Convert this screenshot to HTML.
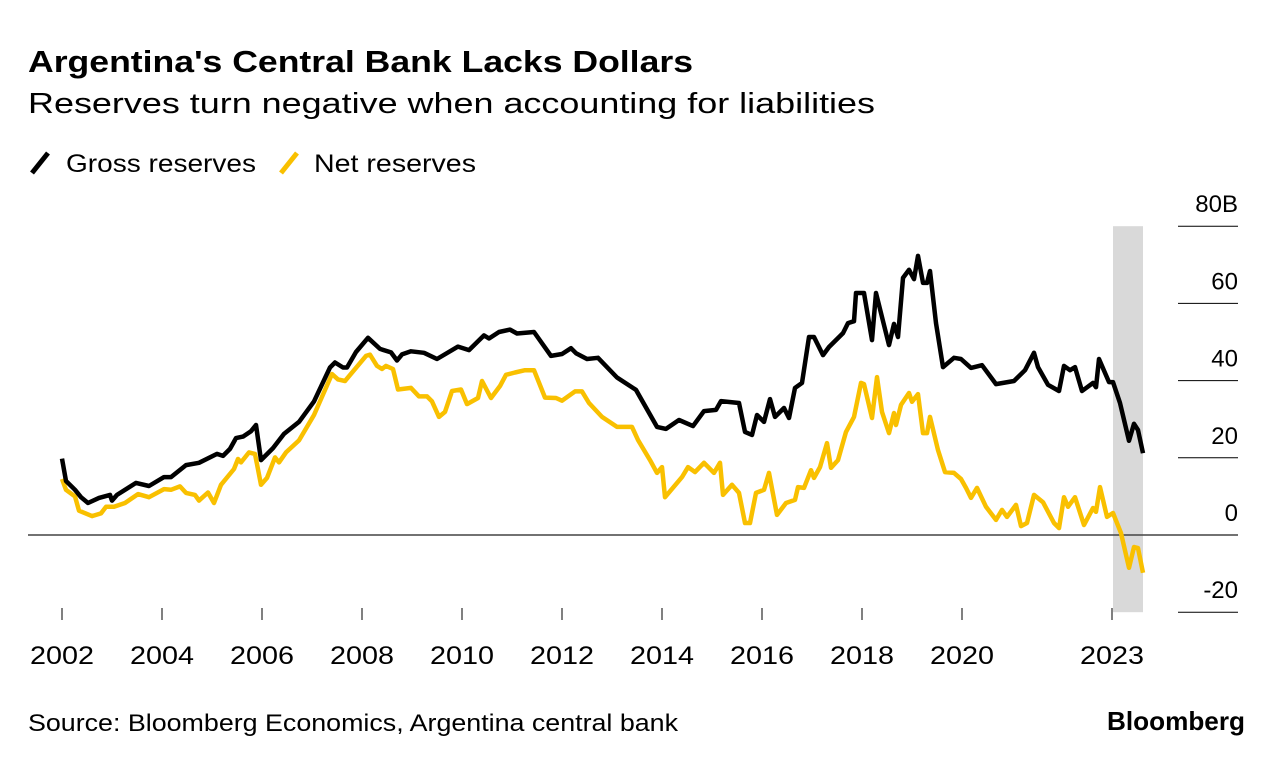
<!DOCTYPE html>
<html><head><meta charset="utf-8"><style>
body{margin:0;background:#fff;font-family:"Liberation Sans",Arial,sans-serif;}
svg{display:block}
</style></head><body>
<svg id="chart" width="1285" height="764" viewBox="0 0 1285 764">
<text x="28" y="72" font-size="31" font-weight="bold" fill="#000" textLength="665" lengthAdjust="spacingAndGlyphs">Argentina's Central Bank Lacks Dollars</text>
<text x="28" y="113" font-size="29" fill="#000" textLength="847" lengthAdjust="spacingAndGlyphs">Reserves turn negative when accounting for liabilities</text>
<g>
<line x1="32" y1="173" x2="48" y2="153" stroke="#000" stroke-width="5"/>
<text x="66" y="172" font-size="25" textLength="190" lengthAdjust="spacingAndGlyphs">Gross reserves</text>
<line x1="281" y1="173" x2="297" y2="153" stroke="#f9c000" stroke-width="5"/>
<text x="314" y="172" font-size="25" textLength="162" lengthAdjust="spacingAndGlyphs">Net reserves</text>
</g>
<g id="plot"></g>
<text x="28" y="731" font-size="24" textLength="650" lengthAdjust="spacingAndGlyphs">Source: Bloomberg Economics, Argentina central bank</text>
<text x="1107" y="730" font-size="26" font-weight="bold" textLength="138" lengthAdjust="spacingAndGlyphs">Bloomberg</text>
</svg>
<script>
const grossYears=[2002.0,2002.08,2002.26,2002.38,2002.52,2002.74,2002.96,2003.0,2003.1,2003.48,2003.74,2004.04,2004.18,2004.48,2004.74,2005.1,2005.22,2005.36,2005.48,2005.62,2005.78,2005.88,2005.98,2006.22,2006.44,2006.74,2007.04,2007.36,2007.46,2007.62,2007.7,2007.88,2008.12,2008.36,2008.58,2008.7,2008.8,2008.98,2009.24,2009.5,2009.92,2010.14,2010.44,2010.54,2010.74,2010.96,2011.1,2011.44,2011.78,2012.0,2012.18,2012.28,2012.5,2012.72,2013.1,2013.48,2013.9,2014.08,2014.34,2014.62,2014.84,2015.08,2015.18,2015.54,2015.66,2015.8,2015.9,2016.04,2016.16,2016.26,2016.44,2016.54,2016.66,2016.8,2016.94,2017.04,2017.22,2017.34,2017.62,2017.72,2017.84,2017.88,2018.04,2018.2,2018.28,2018.54,2018.64,2018.72,2018.82,2018.94,2019.04,2019.12,2019.22,2019.3,2019.36,2019.48,2019.62,2019.84,2019.98,2020.18,2020.4,2020.68,2021.04,2021.26,2021.44,2021.52,2021.72,2021.94,2022.04,2022.16,2022.26,2022.4,2022.62,2022.68,2022.74,2022.94,2023.02,2023.16,2023.34,2023.44,2023.52,2023.62];
const grossValues=[19.8,14,11.7,9.8,8.3,9.6,10.4,8.9,10.4,13.5,12.7,15,15,18.1,18.7,21,20.5,22.3,25.1,25.5,26.9,28.5,19.4,22.5,26.2,29.3,34.6,43.4,44.7,43.4,43.4,47.4,51.1,48.2,47.3,45.2,46.8,47.6,47.2,45.6,48.8,47.9,51.7,50.9,52.6,53.2,52.2,52.6,46.4,46.9,48.4,47.1,45.6,45.9,40.8,37.6,28,27.5,29.8,28.2,32.1,32.4,34.7,34.2,26.7,25.9,31.1,29.3,35.2,30.6,32.9,30.3,38.1,39.4,51.3,51.3,46.6,48.7,52.3,54.9,55.4,62.7,62.7,50.5,62.7,49.2,54.7,51.3,66.6,68.7,66.3,72.3,65.3,65.3,68.4,54.9,43.5,45.9,45.6,43.3,44,39.1,39.9,42.7,47.2,43.5,38.9,37.3,43.8,42.7,43.5,37.3,39.4,38.3,45.6,39.6,39.6,34.2,24.4,28.8,27.2,21.2];
const netYears=[2002.0,2002.08,2002.26,2002.34,2002.6,2002.78,2002.88,2003.04,2003.26,2003.52,2003.74,2004.04,2004.18,2004.36,2004.48,2004.66,2004.74,2004.92,2005.04,2005.18,2005.44,2005.52,2005.58,2005.74,2005.86,2005.98,2006.1,2006.26,2006.34,2006.48,2006.74,2007.04,2007.4,2007.52,2007.66,2008.08,2008.16,2008.3,2008.4,2008.48,2008.62,2008.72,2008.98,2009.14,2009.3,2009.4,2009.54,2009.66,2009.8,2009.98,2010.1,2010.32,2010.4,2010.58,2010.76,2010.88,2011.06,2011.26,2011.44,2011.66,2011.88,2012.0,2012.26,2012.4,2012.54,2012.8,2013.1,2013.4,2013.52,2013.76,2013.9,2014.0,2014.06,2014.4,2014.52,2014.66,2014.84,2015.04,2015.16,2015.22,2015.4,2015.54,2015.66,2015.76,2015.88,2016.04,2016.14,2016.3,2016.48,2016.66,2016.72,2016.84,2016.98,2017.04,2017.16,2017.3,2017.38,2017.52,2017.68,2017.84,2017.98,2018.04,2018.2,2018.3,2018.4,2018.54,2018.64,2018.68,2018.78,2018.94,2019.0,2019.12,2019.22,2019.3,2019.36,2019.52,2019.66,2019.84,2019.98,2020.08,2020.18,2020.3,2020.48,2020.68,2020.8,2020.9,2021.08,2021.18,2021.3,2021.44,2021.62,2021.84,2021.94,2022.04,2022.12,2022.26,2022.44,2022.62,2022.68,2022.76,2022.9,2023.02,2023.18,2023.34,2023.44,2023.52,2023.62];
const netValues=[14.5,11.7,10,6.3,4.9,5.6,7.3,7.3,8.3,10.6,9.8,11.9,11.7,12.6,10.9,10.4,8.9,11,8.3,13,17.1,19.7,18.8,21.4,21,13,14.8,20.1,18.8,21.4,24.5,31.1,41.7,40.3,39.9,46.4,46.7,43.8,43,43.8,43,37.7,38.1,35.9,35.9,34.6,30.6,31.9,37.3,37.7,33.9,35.5,39.9,35.5,38.6,41.5,42.1,42.7,42.7,35.6,35.5,34.8,37.2,37.2,34.2,30.6,28,28,24.6,19.4,16.1,17.6,9.8,15,17.6,16.3,18.7,16.1,18.7,10.4,13,10.9,3.1,3.1,10.9,11.7,16.1,5.2,8.3,9.1,12.4,12.2,16.8,14.8,17.6,23.8,17.4,19.4,26.7,30.6,39.4,39.1,30.3,40.9,31.9,26.4,31.6,28.5,33.7,36.8,34.5,36.5,26.4,26.4,30.6,22,16.3,16.1,14.5,12.2,9.6,12.2,7.3,3.9,6.5,4.7,7.8,2.3,3.1,10.4,8.5,3.1,1.8,9.8,7.3,9.8,2.6,7,6,12.4,4.7,5.7,0.5,-8.5,-3.1,-3.4,-9.8];
const yTicks=[80,60,40,20,0,-20];
const yTickLabels=["80B","60","40","20","0","-20"];
const xTicks=[2002,2004,2006,2008,2010,2012,2014,2016,2018,2020,2023];
const shadeRange=[2023.02,2023.62];

const NS="http://www.w3.org/2000/svg";
const plot=document.getElementById('plot');
function xS(y){return 62+(y-2002)*50;}
function yS(v){return 535-v*3.86;}
function mk(t,a){const e=document.createElementNS(NS,t);for(const k in a)e.setAttribute(k,a[k]);plot.appendChild(e);return e;}

const band=mk('rect',{x:xS(shadeRange[0]),y:yS(80),width:xS(shadeRange[1])-xS(shadeRange[0]),height:yS(-20)-yS(80),fill:'#d9d9d9'});



yTicks.forEach((t,i)=>{
  const g=mk('line',{x1:1178,x2:1238,y1:yS(t),y2:yS(t),stroke:'#000','stroke-width':1});
  
  
  const l=mk('text',{x:1238,y:yS(t)-14,'font-size':24,'text-anchor':'end'});
  l.textContent=yTickLabels[i];
  
  
});
const zl=mk('line',{x1:28,x2:1238,y1:yS(0),y2:yS(0),stroke:'#444','stroke-width':1.5});



xTicks.forEach(t=>{
  const tk=mk('line',{x1:xS(t),x2:xS(t),y1:608,y2:620,stroke:'#000','stroke-width':1});
  
  
  const l=mk('text',{x:xS(t)-32,y:664,'font-size':25,textLength:64,lengthAdjust:'spacingAndGlyphs'});
  l.textContent=String(t);
  
  
});

function path(xs,vs){return xs.map((x,i)=>(i?'L':'M')+xS(x).toFixed(1)+','+yS(vs[i]).toFixed(1)).join('');}
const net=mk('path',{d:path(netYears,netValues),fill:'none',stroke:'#f9c000','stroke-width':4.5,'stroke-linejoin':'round'});


const gross=mk('path',{d:path(grossYears,grossValues),fill:'none',stroke:'#000','stroke-width':4.5,'stroke-linejoin':'round'});


</script>
</body></html>
